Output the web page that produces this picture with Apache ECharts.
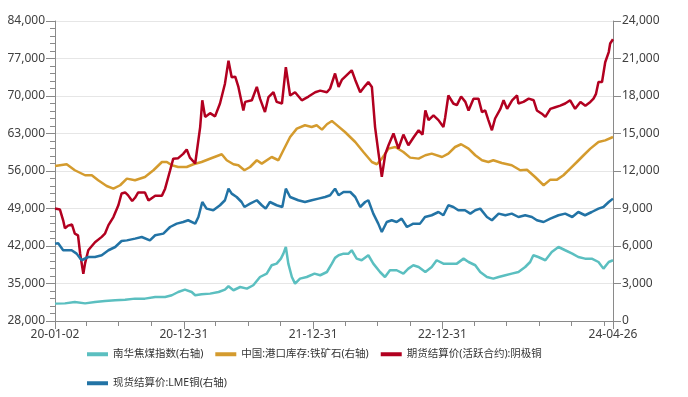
<!DOCTYPE html>
<html>
<head>
<meta charset="utf-8">
<script src="https://cdn.jsdelivr.net/npm/echarts@6/dist/echarts.min.js"></script>
<style>
html, body { margin: 0; padding: 0; background: #fff; }
#chart { width: 688px; height: 397px; }
</style>
</head>
<body>
<div id="chart"></div>
<script>
// series names (legend order)
const seriesNames = ['南华焦煤指数(右轴)', '中国:港口库存:铁矿石(右轴)', '期货结算价(活跃合约):阴极铜', '现货结算价:LME铜(右轴)'];
const seriesColors = ['#5bbfc0', '#d49b2e', '#b20020', '#2273a5'];

// x axis: labelled dates and quarter ticks
const xStart = '2020-01-02';
const xEnd = '2024-04-26';
const xLabelDates = ['2020-01-02', '2020-12-31', '2021-12-31', '2022-12-31', '2024-04-26'];
const xQuarterDates = ['2020-03-31', '2020-06-30', '2020-09-30', '2021-03-31', '2021-06-30', '2021-09-30',
  '2022-03-31', '2022-06-30', '2022-09-30', '2023-03-31', '2023-06-30', '2023-09-30', '2023-12-31', '2024-03-31'];

// 南华焦煤指数 (right axis)
const cokeDates = [
  '2020-01-02','2020-01-30','2020-02-27','2020-03-27','2020-04-24','2020-05-22','2020-06-20','2020-07-18','2020-08-15','2020-09-12','2020-10-11','2020-11-08','2020-11-27','2020-12-15',
  '2021-01-03','2021-01-22','2021-02-01','2021-02-19','2021-03-15','2021-04-08','2021-04-26','2021-05-06','2021-05-20','2021-06-08','2021-06-27','2021-07-15','2021-08-03','2021-08-22','2021-09-05','2021-09-19','2021-10-01','2021-10-08','2021-10-15','2021-10-22','2021-11-01','2021-11-10','2021-11-24','2021-12-13',
  '2022-01-04','2022-01-20','2022-02-08','2022-02-22','2022-03-03','2022-03-13','2022-03-27','2022-04-10','2022-04-19','2022-05-03','2022-05-17','2022-06-05','2022-06-19','2022-07-08','2022-07-22','2022-08-05','2022-08-24','2022-09-12','2022-09-26','2022-10-10','2022-10-25','2022-11-13','2022-12-01','2022-12-15',
  '2023-01-03','2023-01-22','2023-02-10','2023-03-01','2023-03-15','2023-04-03','2023-04-17','2023-05-06','2023-05-24','2023-06-08','2023-06-27','2023-07-15','2023-08-03','2023-08-22','2023-09-05','2023-09-14','2023-09-28','2023-10-18','2023-11-05','2023-11-24','2023-12-13',
  '2024-01-02','2024-01-19','2024-02-07','2024-02-26','2024-03-16','2024-03-30','2024-04-14','2024-04-26'
];
const cokeValues = [
  1390,1410,1520,1410,1520,1600,1660,1700,1790,1790,1920,1920,2060,2320,
  2510,2320,2060,2140,2190,2320,2510,2780,2460,2720,2590,2860,3520,3790,4460,4590,4990,5390,5920,4590,3520,2990,3390,3520,
  3790,3660,3920,4590,5050,5260,5390,5390,5660,4990,4860,5260,4590,3920,3520,4060,4060,3790,4190,4460,4320,3920,4320,4860,
  4590,4590,4590,4990,4720,4460,3920,3520,3390,3520,3660,3790,3920,4320,4720,5260,5120,4860,5520,5920,5660,
  5390,5120,4990,4990,4720,4190,4720,4860
];

// 中国:港口库存:铁矿石 (right axis)
const oreDates = [
  '2020-01-02','2020-02-04','2020-02-27','2020-03-27','2020-04-15','2020-05-03','2020-05-27','2020-06-15','2020-07-04','2020-07-23','2020-08-15','2020-09-12','2020-10-06','2020-10-30','2020-11-13','2020-11-27','2020-12-15',
  '2021-01-08','2021-01-27','2021-02-19','2021-03-20','2021-04-17','2021-05-01','2021-05-20','2021-06-03','2021-06-20','2021-07-06','2021-07-25','2021-08-08','2021-09-05','2021-09-24','2021-10-08','2021-10-27','2021-11-15','2021-12-08','2021-12-27',
  '2022-01-10','2022-01-25','2022-02-08','2022-02-22','2022-03-03','2022-03-31','2022-04-29','2022-05-22','2022-06-15','2022-06-29','2022-07-13','2022-08-01','2022-08-20','2022-09-12','2022-10-01','2022-10-25','2022-11-13','2022-12-01','2022-12-30',
  '2023-01-17','2023-02-05','2023-02-22','2023-03-15','2023-04-03','2023-04-22','2023-05-10','2023-05-24','2023-06-17','2023-07-15','2023-08-08','2023-08-27','2023-09-19','2023-10-13','2023-11-01','2023-11-20','2023-12-08','2023-12-27',
  '2024-01-15','2024-02-03','2024-02-22','2024-03-16','2024-04-04','2024-04-26'
];
const oreValues = [
  12400,12540,12060,11660,11660,11260,10800,10590,10860,11390,11260,11520,12060,12720,12720,12460,12320,
  12320,12540,12720,13040,13340,12860,12540,12460,12060,12320,12860,12590,13120,12860,13660,14720,15390,15660,15520,
  15660,15310,15740,16000,15790,15120,14320,13520,12720,12540,12990,13790,13920,13520,13070,12990,13260,13390,13120,
  13390,13920,14140,13790,13260,12860,12720,12860,12640,12460,12060,12100,11520,10860,11310,11310,11660,12190,
  12720,13260,13790,14320,14450,14720
];

// 期货结算价(活跃合约):阴极铜 (left axis)
const shfeDates = [
  '2020-01-02','2020-01-16','2020-01-25','2020-01-30','2020-02-08','2020-02-19','2020-02-27','2020-03-07','2020-03-13','2020-03-22','2020-03-27','2020-04-05','2020-04-15','2020-04-24','2020-05-13','2020-05-22','2020-06-01','2020-06-15','2020-06-29','2020-07-08','2020-07-18','2020-07-26','2020-08-07','2020-08-15','2020-08-24','2020-09-12','2020-09-22','2020-10-11','2020-10-30','2020-11-08','2020-11-22','2020-12-01','2020-12-15','2020-12-29',
  '2021-01-08','2021-01-17','2021-02-01','2021-02-15','2021-02-21','2021-03-01','2021-03-15','2021-03-29','2021-04-12','2021-04-26','2021-05-06','2021-05-15','2021-05-25','2021-06-03','2021-06-17','2021-06-22','2021-07-11','2021-07-25','2021-08-03','2021-08-17','2021-08-27','2021-09-10','2021-09-19','2021-10-04','2021-10-15','2021-10-27','2021-11-10','2021-11-29','2021-12-18',
  '2022-01-06','2022-01-20','2022-02-08','2022-02-17','2022-03-03','2022-03-13','2022-03-22','2022-04-05','2022-04-19','2022-04-29','2022-05-13','2022-05-27','2022-06-05','2022-06-15','2022-06-24','2022-07-04','2022-07-13','2022-07-23','2022-08-01','2022-08-15','2022-08-29','2022-09-12','2022-09-26','2022-10-11','2022-10-25','2022-11-05','2022-11-13','2022-11-22','2022-12-06','2022-12-20',
  '2023-01-03','2023-01-08','2023-01-17','2023-01-31','2023-02-10','2023-02-22','2023-03-06','2023-03-15','2023-03-29','2023-04-03','2023-04-12','2023-04-22','2023-05-01','2023-05-10','2023-05-20','2023-05-29','2023-06-13','2023-06-22','2023-07-02','2023-07-16','2023-07-30','2023-08-03','2023-08-17','2023-09-01','2023-09-15','2023-09-24','2023-10-08','2023-10-18','2023-11-01','2023-11-15','2023-11-29','2023-12-13','2023-12-27',
  '2024-01-10','2024-01-25','2024-02-08','2024-02-22','2024-03-02','2024-03-09','2024-03-16','2024-03-26','2024-04-04','2024-04-14','2024-04-18','2024-04-26'
];
const shfeValues = [
  49000,48800,46800,45300,45800,46000,44300,44000,40600,36800,38800,41200,42000,42700,43700,44300,45900,47400,49600,51800,52000,51500,50400,51000,52000,52000,50500,51400,51400,52700,56100,58300,58400,59200,
  60000,58500,57400,64200,69200,66100,66800,66200,68600,72300,76600,73500,73600,71700,67300,68900,69200,71700,69500,67000,69800,70700,68900,68600,75400,70100,70700,69200,69900,
  70700,71000,70700,71400,74200,71700,73000,73900,74800,73000,70700,71900,72600,71700,64200,59200,54900,59200,60800,63000,60200,62800,60800,62300,63600,62800,67300,65500,66400,65500,
  64200,66000,70100,68600,68300,69900,68900,67300,69500,69200,69500,67000,67300,65500,63600,65800,67600,69200,67600,69200,70100,68600,68900,69500,69200,67300,66700,66100,67600,67900,68200,68600,69200,
  67600,68900,68200,68900,69500,70400,72600,72600,76300,78200,79800,80600
];

// 现货结算价:LME铜 (right axis)
const lmeDates = [
  '2020-01-02','2020-01-11','2020-01-25','2020-02-18','2020-03-03','2020-03-17','2020-03-22','2020-04-05','2020-04-24','2020-05-13','2020-06-01','2020-06-20','2020-07-08','2020-07-23','2020-08-15','2020-09-03','2020-09-26','2020-10-11','2020-11-03','2020-11-22','2020-12-11','2020-12-29',
  '2021-01-12','2021-02-01','2021-02-10','2021-02-21','2021-03-05','2021-03-24','2021-04-12','2021-04-26','2021-05-06','2021-05-15','2021-05-29','2021-06-12','2021-06-20','2021-07-06','2021-07-25','2021-08-08','2021-08-19','2021-08-31','2021-09-19','2021-10-05','2021-10-15','2021-10-27','2021-11-19','2021-12-08','2021-12-27',
  '2022-01-15','2022-02-03','2022-02-17','2022-03-03','2022-03-13','2022-03-27','2022-04-15','2022-04-29','2022-05-13','2022-05-27','2022-06-05','2022-06-19','2022-07-03','2022-07-13','2022-07-27','2022-08-10','2022-08-24','2022-09-07','2022-09-22','2022-10-10','2022-10-29','2022-11-12','2022-12-01','2022-12-20',
  '2023-01-03','2023-01-17','2023-01-31','2023-02-14','2023-03-05','2023-03-20','2023-04-03','2023-04-17','2023-05-06','2023-05-20','2023-06-08','2023-06-27','2023-07-15','2023-08-03','2023-08-22','2023-09-10','2023-09-24','2023-10-13','2023-11-01','2023-11-24','2023-12-13',
  '2024-01-02','2024-01-19','2024-02-07','2024-02-26','2024-03-16','2024-03-30','2024-04-14','2024-04-26'
];
const lmeValues = [
  6190,6220,5660,5660,5390,4860,4720,5120,5120,5260,5660,5920,6400,6450,6590,6720,6450,6860,6990,7520,7790,7920,
  8060,7790,8320,9520,8990,8860,9260,9660,10590,10190,9920,9520,9120,9390,9660,9260,8990,9520,9260,9120,10590,9920,9660,9520,9660,
  9790,9920,10060,10590,10060,10320,10320,9920,9120,9520,9660,8590,7790,7120,7920,8060,7920,8190,7520,7790,7790,8320,8460,8720,
  8460,9260,9120,8860,8860,8590,8860,8990,8320,8060,8590,8460,8590,8320,8460,8320,8060,7920,8190,8460,8590,
  8320,8720,8460,8720,8990,9120,9520,9790
];

function toTime(s) {
  const p = s.split('-');
  return new Date(+p[0], +p[1] - 1, +p[2]).getTime();
}
function pairs(dates, values) {
  return dates.map((d, i) => [toTime(d), values[i]]);
}
function fmtDate(v) {
  const d = new Date(v);
  const pad = n => (n < 10 ? '0' : '') + n;
  return pad(d.getFullYear() % 100) + '-' + pad(d.getMonth() + 1) + '-' + pad(d.getDate());
}
const fmtNum = v => Number(v).toLocaleString('en-US');

const FONT = "'Noto Sans', 'Noto Sans CJK SC', sans-serif";
const axisGray = '#8a8a8a';
const labelColor = '#404040';

const chart = echarts.init(document.getElementById('chart'));

const xMin = toTime(xStart);
const xMax = toTime(xEnd);

const lineSeries = [
  { name: seriesNames[0], yAxisIndex: 1, data: pairs(cokeDates, cokeValues) },
  { name: seriesNames[1], yAxisIndex: 1, data: pairs(oreDates, oreValues) },
  { name: seriesNames[2], yAxisIndex: 0, data: pairs(shfeDates, shfeValues) },
  { name: seriesNames[3], yAxisIndex: 1, data: pairs(lmeDates, lmeValues) }
].map((s, i) => ({
  name: s.name,
  type: 'line',
  yAxisIndex: s.yAxisIndex,
  data: s.data,
  showSymbol: false,
  symbol: 'none',
  lineStyle: { width: 2.5, color: seriesColors[i] },
  itemStyle: { color: seriesColors[i] },
  z: 2 + i
}));

const legendBase = {
  left: 87,
  itemWidth: 21,
  itemHeight: 4,
  itemGap: 12,
  icon: 'rect',
  padding: 0,
  textStyle: { fontSize: 10.5, color: '#333', fontFamily: FONT }
};

chart.setOption({
  animation: false,
  backgroundColor: '#fff',
  textStyle: { fontFamily: FONT },
  grid: { left: 55, right: 75, top: 21, bottom: 76 },
  legend: [
    Object.assign({}, legendBase, { top: 349, data: seriesNames.slice(0, 3) }),
    Object.assign({}, legendBase, { top: 378, data: seriesNames.slice(3) })
  ],
  xAxis: [
    {
      // dates as timestamps on a value scale, so ticks can sit on chosen dates
      type: 'value',
      min: xMin,
      max: xMax,
      axisLine: { lineStyle: { color: axisGray } },
      axisTick: { customValues: xLabelDates.map(toTime), length: 8, lineStyle: { color: axisGray } },
      axisLabel: {
        customValues: xLabelDates.map(toTime),
        formatter: fmtDate,
        color: labelColor,
        fontSize: 12,
        fontFamily: FONT,
        margin: 8,
        showMinLabel: true,
        showMaxLabel: true,
        hideOverlap: false
      },
      splitLine: { show: false }
    },
    {
      type: 'value',
      min: xMin,
      max: xMax,
      position: 'bottom',
      axisLine: { show: false },
      axisTick: { customValues: xQuarterDates.map(toTime), length: 5, lineStyle: { color: axisGray } },
      axisLabel: { show: false, customValues: xQuarterDates.map(toTime) },
      splitLine: { show: false }
    }
  ],
  yAxis: [
    {
      type: 'value',
      position: 'left',
      min: 28000,
      max: 84000,
      interval: 7000,
      axisLine: { show: true, lineStyle: { color: axisGray } },
      axisTick: { show: true, length: 9, lineStyle: { color: axisGray } },
      minorTick: { show: true, splitNumber: 5, length: 5, lineStyle: { color: axisGray } },
      axisLabel: { formatter: fmtNum, color: labelColor, fontSize: 12, fontFamily: FONT, margin: 10 },
      splitLine: { show: true, lineStyle: { color: '#e6e6e6', width: 1 } }
    },
    {
      type: 'value',
      position: 'right',
      min: 0,
      max: 24000,
      interval: 3000,
      axisLine: { show: true, lineStyle: { color: axisGray } },
      axisTick: { show: true, length: 8, lineStyle: { color: axisGray } },
      axisLabel: { formatter: fmtNum, color: labelColor, fontSize: 12, fontFamily: FONT, margin: 9 },
      splitLine: { show: false }
    }
  ],
  series: lineSeries
});

window.addEventListener('resize', function() {
  chart.resize();
});
</script>
</body>
</html>
